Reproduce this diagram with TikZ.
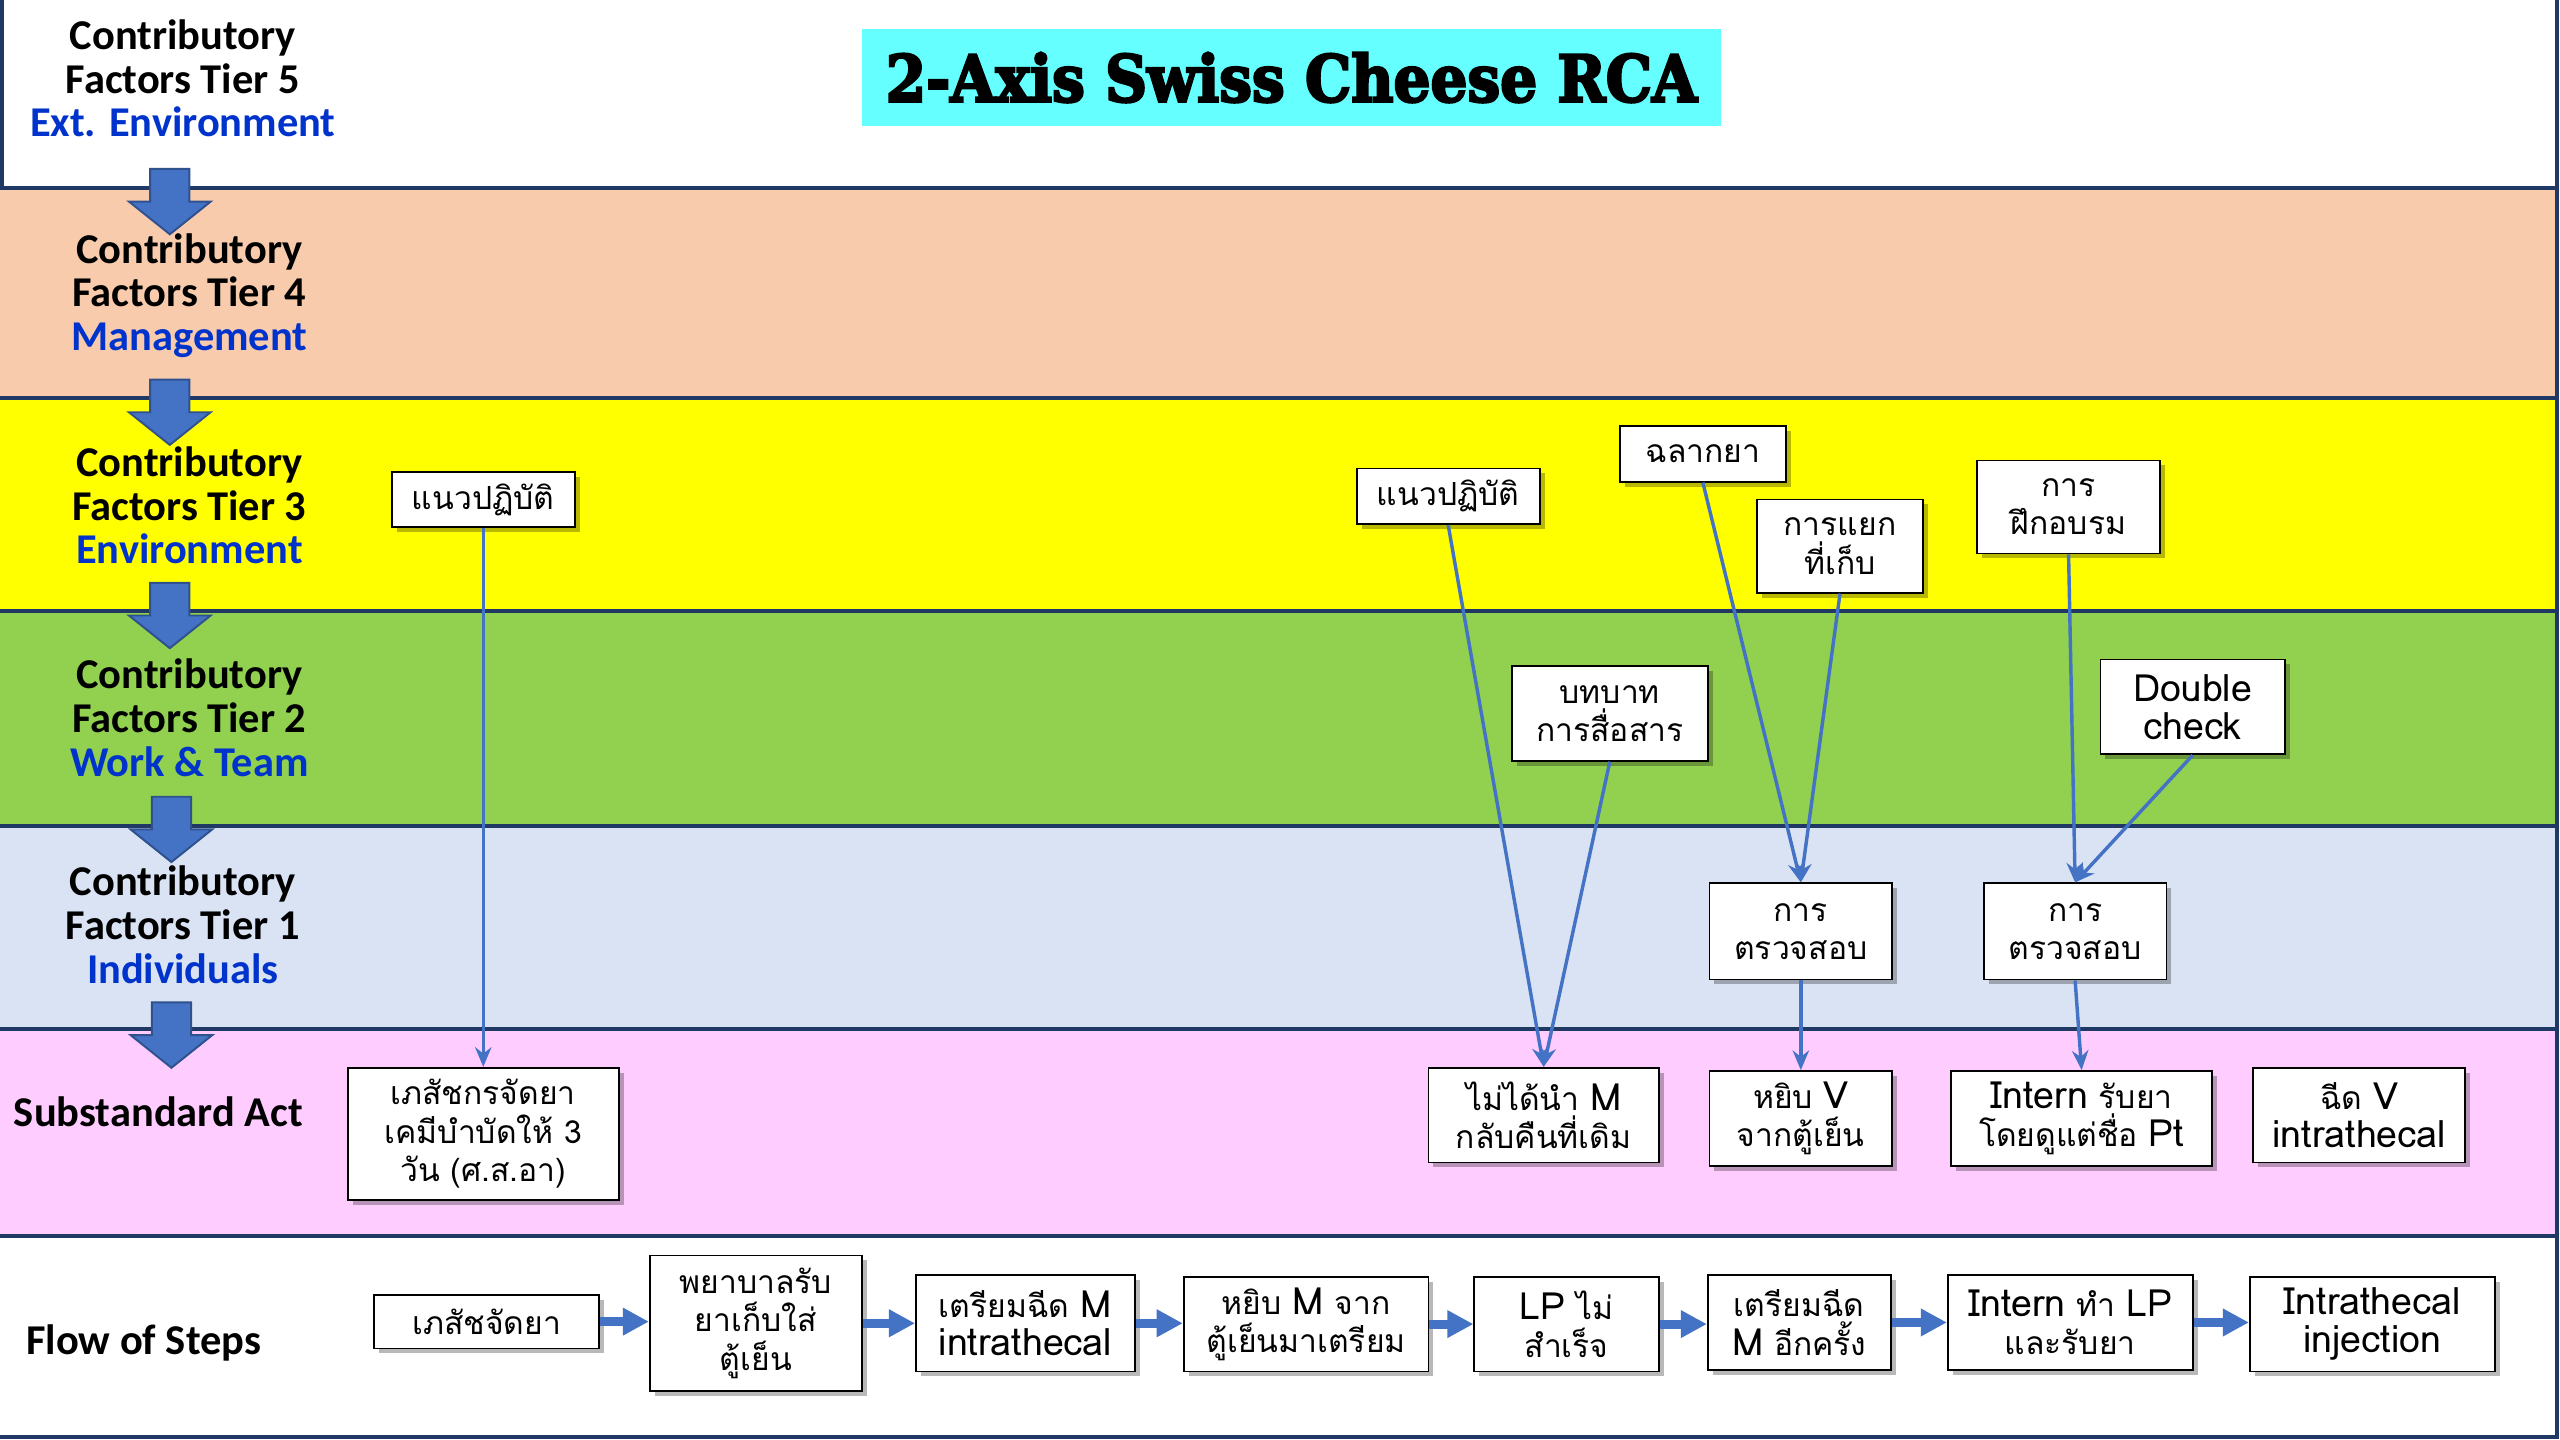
\documentclass[tikz,border=0pt]{standalone}
\usepackage{fontspec}
\setmainfont{Carlito}
\newfontfamily\thaifont[Script=Thai]{Loma}
\newfontfamily\titlefont{DejaVu Serif}[FakeBold=4]
\newcommand\lat[1]{{\fontsize{23}{23.5}\selectfont #1}}
\usetikzlibrary{arrows.meta,shadows,calc}

\definecolor{navy}{HTML}{1F3864}
\definecolor{peach}{HTML}{F8CBAD}
\definecolor{tieryellow}{HTML}{FFFF00}
\definecolor{tiergreen}{HTML}{92D050}
\definecolor{tierblue}{HTML}{DAE3F3}
\definecolor{tierpink}{HTML}{FFCCFF}
\definecolor{linkblue}{HTML}{4472C4}
\definecolor{arrowedge}{HTML}{2F528F}
\definecolor{labelblue}{HTML}{0033CC}
\definecolor{titlecyan}{HTML}{66FFFF}

\tikzset{
  band/.style={draw=navy, line width=2.4pt},
  tierlabel/.style={align=center, inner sep=0pt,
    font=\fontsize{26}{26.8}\selectfont\bfseries},
  factor/.style={draw=black, fill=white, line width=1.1pt, align=center,
    inner sep=2pt, font=\thaifont\fontsize{19.5}{23.5}\selectfont,
    drop shadow={shadow xshift=3pt, shadow yshift=-3pt, fill=black, opacity=0.28}},
  link/.style={draw=linkblue, line width=2.1pt,
    -{Stealth[length=12pt, width=10pt]}},
  flowarrow/.style={draw=linkblue, line width=5.5pt,
    -{Triangle[length=16pt, width=16pt]}},
  tierarrow/.pic={
    \draw[fill=linkblue, draw=arrowedge, line width=1.2pt, line join=miter]
      (-12,0) -- (12,0) -- (12,20) -- (25,20) -- (0,40) -- (-25,20) -- (-12,20) -- cycle;}
}

\begin{document}
\begin{tikzpicture}[x=1pt, y=-1pt]
\useasboundingbox (0,0) rectangle (1568,882);

% horizontal bands, top to bottom
\draw[band, fill=white]      (1,-6)   rectangle (1566,115);
\draw[band, fill=peach]      (-4,115) rectangle (1566,244);
\draw[band, fill=tieryellow] (-4,244) rectangle (1566,374);
\draw[band, fill=tiergreen]  (-4,374) rectangle (1566,506);
\draw[band, fill=tierblue]   (-4,506) rectangle (1566,630);
\draw[band, fill=tierpink]   (-4,630) rectangle (1566,757);
\draw[band, fill=white]      (-6,757) rectangle (1566,880);

% title
\node[fill=titlecyan, minimum width=526pt, minimum height=59pt, inner sep=0pt]
  (title) at (791,47.5)
  {\resizebox{497pt}{30pt}{\titlefont\bfseries 2-Axis Swiss Cheese RCA}};

% tier labels
\node[tierlabel] (t5) at (112,48)  {Contributory\\Factors Tier 5\\\textcolor{labelblue}{Ext. Environment}};
\node[tierlabel] (t4) at (116,181) {Contributory\\Factors Tier 4\\\textcolor{labelblue}{Management}};
\node[tierlabel] (t3) at (116,309.5) {Contributory\\Factors Tier 3\\\textcolor{labelblue}{Environment}};
\node[tierlabel] (t2) at (116,439.5) {Contributory\\Factors Tier 2\\\textcolor{labelblue}{Work \& Team}};
\node[tierlabel] (t1) at (112,566.5) {Contributory\\Factors Tier 1\\\textcolor{labelblue}{Individuals}};
\node[tierlabel] (sa) at (97,681)  {Substandard Act};
\node[tierlabel] (fs) at (88,822.5)  {Flow of Steps};

% downward block arrows between tiers
\pic at (104,103.5) {tierarrow};
\pic at (104,232.5) {tierarrow};
\pic at (104,357)   {tierarrow};
\pic at (105,488)   {tierarrow};
\pic at (105,614)   {tierarrow};

% tier 3 factors
\node[factor, minimum width=112pt, minimum height=34pt] (guideA) at (296,306)   {แนวปฏิบัติ};
\node[factor, minimum width=112pt, minimum height=34pt] (guideB) at (887,304)   {แนวปฏิบัติ};
\node[factor, minimum width=102pt, minimum height=34pt] (label)  at (1043,278)  {ฉลากยา};
\node[factor, minimum width=102pt, minimum height=57pt] (store)  at (1127,334.5){การแยก\\ที่เก็บ};
\node[factor, minimum width=112pt, minimum height=57pt] (train)  at (1267,310.5){การ\\ฝึกอบรม};

% tier 2 factors
\node[factor, minimum width=120pt, minimum height=58pt] (role)   at (986,437)   {บทบาท\\การสื่อสาร};
\node[factor, minimum width=113pt, minimum height=58pt] (double) at (1343,433)  {\lat{Double}\\\lat{check}};

% tier 1 factors
\node[factor, minimum width=112pt, minimum height=59pt] (checkA) at (1103,570.5){การ\\ตรวจสอบ};
\node[factor, minimum width=112pt, minimum height=59pt] (checkB) at (1271,570.5){การ\\ตรวจสอบ};

% substandard acts
\node[factor, minimum width=166pt, minimum height=81pt] (actA) at (296,694.5) {เภสัชกรจัดยา\\เคมีบำบัดให้ 3\\วัน (ศ.ส.อา)};
\node[factor, minimum width=141pt, minimum height=58pt] (actB) at (945.5,683) {ไม่ได้นำ \lat{M}\\กลับคืนที่เดิม};
\node[factor, minimum width=112pt, minimum height=58pt] (actC) at (1103,685)  {หยิบ \lat{V}\\จากตู้เย็น};
\node[factor, minimum width=160pt, minimum height=58pt] (actD) at (1275,685)  {\lat{Intern} รับยา\\โดยดูแต่ชื่อ \lat{Pt}};
\node[factor, minimum width=130pt, minimum height=58pt] (actE) at (1445,683)  {ฉีด \lat{V}\\\lat{intrathecal}};

% flow of steps
\node[factor, minimum width=138pt, minimum height=33pt] (f1) at (298,809.5)  {เภสัชจัดยา};
\node[factor, minimum width=130pt, minimum height=83pt] (f2) at (463,810.5)  {พยาบาลรับ\\ยาเก็บใส่\\ตู้เย็น};
\node[factor, minimum width=134pt, minimum height=59pt] (f3) at (628,810.5)  {เตรียมฉีด \lat{M}\\\lat{intrathecal}};
\node[factor, minimum width=150pt, minimum height=58pt] (f4) at (800,811)    {หยิบ \lat{M} จาก\\ตู้เย็นมาเตรียม};
\node[factor, minimum width=113pt, minimum height=58pt] (f5) at (959.5,811)  {\lat{LP} ไม่\\สำเร็จ};
\node[factor, minimum width=112pt, minimum height=58pt] (f6) at (1102,810)   {เตรียมฉีด\\\lat{M} อีกครั้ง};
\node[factor, minimum width=150pt, minimum height=58pt] (f7) at (1268,810)   {\lat{Intern} ทำ \lat{LP}\\และรับยา};
\node[factor, minimum width=150pt, minimum height=58pt] (f8) at (1453,811)   {\lat{Intrathecal}\\\lat{injection}};

% flow arrows
\foreach \a/\b in {f1/f2, f2/f3, f3/f4, f4/f5, f5/f6, f6/f7, f7/f8}
  \draw[flowarrow] (\a.east) -- (\b.west |- \a.east);

% causal links
\draw[link] (guideA.south) -- (actA.north);
\draw[link] (guideB.south) -- (actB.north);
\draw[link] (role.south)   -- (actB.north);
\draw[link] (label.south)  -- (checkA.north);
\draw[link] (store.south)  -- (checkA.north);
\draw[link] (checkA.south) -- (actC.north);
\draw[link] (train.south)  -- (checkB.north);
\draw[link] (double.south) -- (checkB.north);
\draw[link] (checkB.south) -- (actD.north);
\end{tikzpicture}
\end{document}
